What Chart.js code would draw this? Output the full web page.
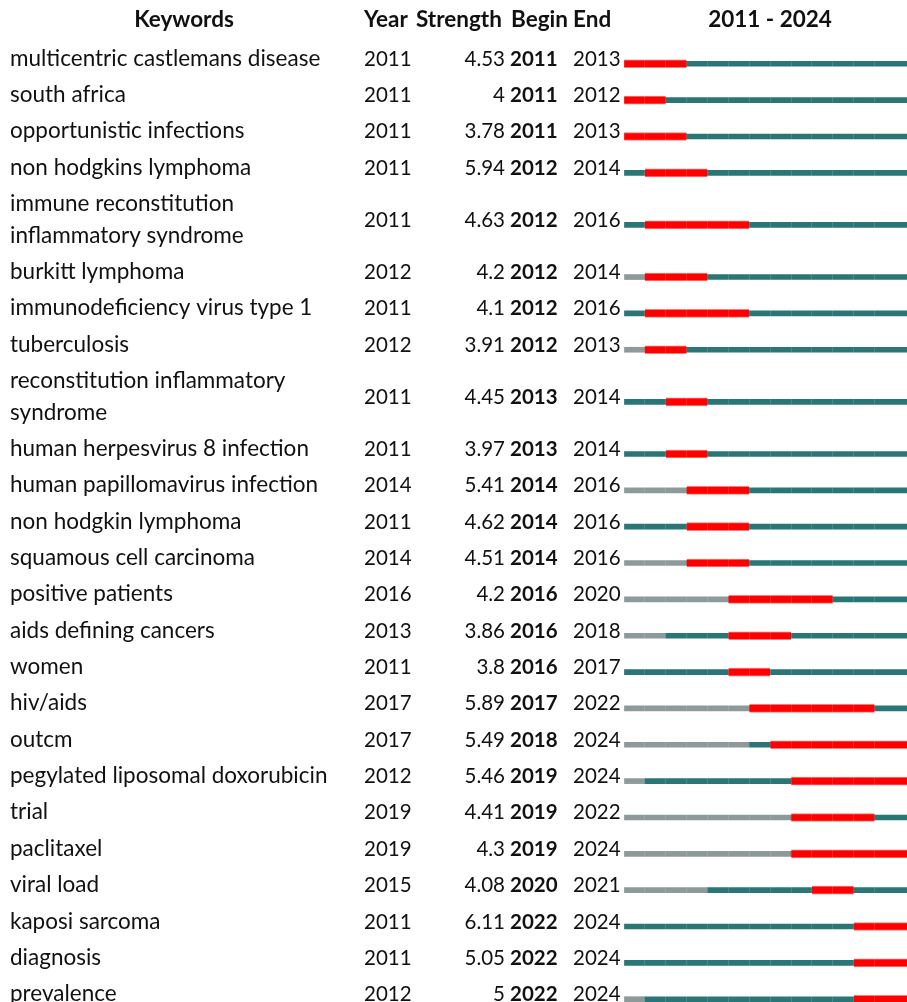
<!DOCTYPE html>
<html>
<head>
<meta charset="utf-8">
<script src="https://cdn.jsdelivr.net/npm/chart.js@4"></script>
<style>
  body { margin: 0; background: #fff; }
  #wrap { width: 907px; height: 1002px; }
</style>
</head>
<body>
<div id="wrap"><canvas id="burstChart" width="907" height="1002"></canvas></div>
<script>
var keywords = [
    "multicentric castlemans disease", "south africa", "opportunistic infections",
    "non hodgkins lymphoma", "immune reconstitution inflammatory syndrome",
    "burkitt lymphoma", "immunodeficiency virus type 1", "tuberculosis",
    "reconstitution inflammatory syndrome", "human herpesvirus 8 infection",
    "human papillomavirus infection", "non hodgkin lymphoma", "squamous cell carcinoma",
    "positive patients", "aids defining cancers", "women", "hiv/aids", "outcm",
    "pegylated liposomal doxorubicin", "trial", "paclitaxel", "viral load",
    "kaposi sarcoma", "diagnosis", "prevalence"
];
var firstYear = [2011, 2011, 2011, 2011, 2011, 2012, 2011, 2012, 2011, 2011, 2014, 2011, 2014,
                 2016, 2013, 2011, 2017, 2017, 2012, 2019, 2019, 2015, 2011, 2011, 2012];
var strength = [4.53, 4, 3.78, 5.94, 4.63, 4.2, 4.1, 3.91, 4.45, 3.97, 5.41, 4.62, 4.51,
                4.2, 3.86, 3.8, 5.89, 5.49, 5.46, 4.41, 4.3, 4.08, 6.11, 5.05, 5];
var burstBegin = [2011, 2011, 2011, 2012, 2012, 2012, 2012, 2012, 2013, 2013, 2014, 2014, 2014,
                  2016, 2016, 2016, 2017, 2018, 2019, 2019, 2019, 2020, 2022, 2022, 2022];
var burstEnd = [2013, 2012, 2013, 2014, 2016, 2014, 2016, 2013, 2014, 2014, 2016, 2016, 2016,
                2020, 2018, 2017, 2022, 2024, 2024, 2022, 2024, 2021, 2024, 2024, 2024];
var yearSpan = [2011, 2024];

var FONT = "Lato, 'Noto Sans', sans-serif";
var FS = 22.5;           // keywords and headers
var NS = 20.5;           // numeric columns
var ROW_PX = 36.35;      // one text line row
var EXTRA_LINE = 0.867;  // extra height (in rows) per wrapped line
var LINE_PX = 31.5;
var WRAP_W = 345;

// wrap long keywords to fit the first column
var mctx = document.createElement('canvas').getContext('2d');
mctx.font = FS + "px " + FONT;
function wrap(text) {
    var words = text.split(' '), lines = [], cur = '';
    words.forEach(function (w) {
        var t = cur ? cur + ' ' + w : w;
        if (cur && mctx.measureText(t).width > WRAP_W) { lines.push(cur); cur = w; }
        else cur = t;
    });
    lines.push(cur);
    return lines;
}
var kwLines = keywords.map(wrap);

// row centers on the y scale, in row units
var rowPos = [];
var acc = 0;
kwLines.forEach(function (ls) {
    var h = 1 + (ls.length - 1) * EXTRA_LINE;
    rowPos.push(acc + h / 2);
    acc += h;
});
var yMin = -45.6 / ROW_PX;
var yMax = yMin + 1002 / ROW_PX;

var endYear = yearSpan[1] + 1;
var beforeData = keywords.map(function (k, i) { return { y: rowPos[i], x: [yearSpan[0], firstYear[i]] }; });
var afterData = keywords.map(function (k, i) { return { y: rowPos[i], x: [firstYear[i], endYear] }; });
var burstData = keywords.map(function (k, i) { return { y: rowPos[i], x: [burstBegin[i], burstEnd[i] + 1] }; });

var tableText = {
    id: 'tableText',
    afterDraw: function (chart) {
        var ctx = chart.ctx, ys = chart.scales.y;
        ctx.save();
        ctx.fillStyle = '#111';
        ctx.textBaseline = 'middle';
        ctx.font = "bold " + FS + "px " + FONT;
        var hy = 20;
        ctx.textAlign = 'center';
        ctx.fillText('Keywords', 184, hy);
        ctx.fillText(yearSpan[0] + ' - ' + yearSpan[1], 770, hy);
        ctx.textAlign = 'left';
        ctx.fillText('Year', 364, hy);
        ctx.fillText('Strength', 416, hy);
        ctx.fillText('Begin', 511, hy);
        ctx.fillText('End', 573, hy);

        ctx.textBaseline = 'alphabetic';
        keywords.forEach(function (k, i) {
            var base = ys.getPixelForValue(rowPos[i]) + 2;
            var ls = kwLines[i];
            ctx.font = FS + "px " + FONT;
            ctx.textAlign = 'left';
            ls.forEach(function (line, j) {
                ctx.fillText(line, 10, base + (j - (ls.length - 1) / 2) * LINE_PX);
            });
            ctx.font = NS + "px " + FONT;
            ctx.fillText(String(firstYear[i]), 364, base);
            ctx.fillText(String(burstEnd[i]), 573, base);
            ctx.textAlign = 'right';
            ctx.fillText(String(strength[i]), 505, base);
            ctx.textAlign = 'left';
            ctx.font = "bold " + NS + "px " + FONT;
            ctx.fillText(String(burstBegin[i]), 510, base);
        });
        ctx.restore();
    }
};

new Chart(document.getElementById('burstChart'), {
    type: 'bar',
    data: {
        datasets: [
            { label: 'before', data: beforeData, backgroundColor: '#8c9a9a', barThickness: 5, grouped: false, order: 3 },
            { label: 'after', data: afterData, backgroundColor: '#2a7676', barThickness: 5, grouped: false, order: 2 },
            {
                label: 'burst', data: burstData, backgroundColor: '#ff0000', barThickness: 8, grouped: false, order: 1,
                borderColor: '#ff7a7a', borderWidth: { top: 1, bottom: 1, left: 0, right: 0 }, borderSkipped: false
            }
        ]
    },
    options: {
        indexAxis: 'y',
        responsive: false,
        animation: false,
        layout: { padding: { left: 624, right: 0, top: 0, bottom: 0 } },
        plugins: { legend: { display: false }, tooltip: { enabled: false } },
        scales: {
            x: {
                type: 'linear', min: yearSpan[0], max: 2024.55,
                ticks: { display: false, stepSize: 1 },
                grid: { color: 'rgba(255,255,255,0.14)', drawTicks: false, z: 1 },
                border: { display: false },
                afterFit: function (s) { s.height = 0; }
            },
            y: { type: 'linear', min: yMin, max: yMax, reverse: true, offset: false, display: false }
        }
    },
    plugins: [tableText]
});
</script>
</body>
</html>
